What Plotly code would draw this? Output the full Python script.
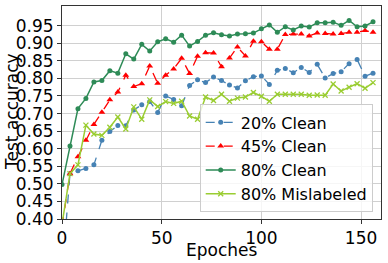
import plotly.graph_objects as go

epochs = list(range(0, 160, 4))

clean20 = [0.24, 0.529, 0.537, 0.544, 0.554, 0.624, 0.649, 0.666, 0.665, 0.710,
           0.725, 0.734, 0.703, 0.750, 0.740, 0.722, 0.780, 0.796, 0.788, 0.804,
           0.794, 0.781, 0.773, 0.793, 0.805, 0.807, 0.783, 0.823, 0.828, 0.816,
           0.831, 0.817, 0.840, 0.801, 0.814, 0.819, 0.842, 0.854, 0.806, 0.815]

clean45 = [0.38, 0.529, 0.577, 0.624, 0.669, 0.704, 0.739, 0.761, 0.809, 0.777,
           0.785, 0.835, 0.786, 0.809, 0.827, 0.857, 0.814, 0.863, 0.873, 0.872,
           0.833, 0.858, 0.889, 0.864, 0.906, 0.904, 0.883, 0.883, 0.925, 0.926,
           0.926, 0.921, 0.929, 0.928, 0.926, 0.928, 0.931, 0.931, 0.936, 0.931]

clean80 = [0.498, 0.608, 0.714, 0.743, 0.790, 0.794, 0.822, 0.815, 0.870, 0.855,
           0.897, 0.878, 0.904, 0.913, 0.903, 0.923, 0.892, 0.905, 0.923, 0.930,
           0.924, 0.921, 0.926, 0.927, 0.929, 0.941, 0.952, 0.931, 0.947, 0.938,
           0.949, 0.946, 0.958, 0.958, 0.960, 0.951, 0.965, 0.947, 0.949, 0.961]

mislabeled80 = [0.385, 0.529, 0.554, 0.667, 0.642, 0.638, 0.661, 0.690, 0.656, 0.719,
                0.684, 0.739, 0.720, 0.734, 0.729, 0.735, 0.693, 0.684, 0.747, 0.737,
                0.755, 0.735, 0.744, 0.747, 0.760, 0.749, 0.735, 0.755, 0.755, 0.755,
                0.755, 0.752, 0.753, 0.752, 0.784, 0.764, 0.775, 0.785, 0.772, 0.788]

series_names = ["20% Clean", "45% Clean", "80% Clean", "80% Mislabeled"]
y_ticks = [0.40, 0.45, 0.50, 0.55, 0.60, 0.65, 0.70, 0.75, 0.80, 0.85, 0.90, 0.95]
x_ticks = [0, 50, 100, 150]

FONT = "DejaVu Sans"
W, H = 388, 263
ML, MR, MT, MB = 62, 7, 6, 44
plot_w = W - ML - MR
plot_h = H - MT - MB

fig = go.Figure()
fig.add_trace(go.Scatter(
    x=epochs, y=clean20, name=series_names[0], mode="lines+markers",
    line=dict(color="#4682B4", width=1.3, dash="dash"),
    marker=dict(symbol="circle", size=5, color="#4682B4")))
fig.add_trace(go.Scatter(
    x=epochs, y=clean45, name=series_names[1], mode="lines+markers",
    line=dict(color="#FF0000", width=1.3, dash="dash"),
    marker=dict(symbol="triangle-up", size=6, color="#FF0000")))
fig.add_trace(go.Scatter(
    x=epochs, y=clean80, name=series_names[2], mode="lines+markers",
    line=dict(color="#2E8B57", width=1.5),
    marker=dict(symbol="circle", size=5, color="#2E8B57")))
fig.add_trace(go.Scatter(
    x=epochs, y=mislabeled80, name=series_names[3], mode="lines+markers",
    line=dict(color="#9ACD32", width=1.5),
    marker=dict(symbol="x-thin", size=5, color="#9ACD32",
                line=dict(width=1.3, color="#9ACD32"))))

axis_common = dict(
    showgrid=True, gridcolor="#d0d0d0", gridwidth=1,
    showline=True, linecolor="#333333", linewidth=1, mirror=True,
    ticks="outside", ticklen=4, tickcolor="#333333",
    tickfont=dict(family=FONT, size=17, color="#000000"),
    zeroline=False, automargin=False,
)

fig.update_xaxes(range=[0, 160], tickvals=x_ticks, **axis_common)
fig.update_yaxes(range=[0.4, 1.006], tickvals=y_ticks, tickformat=".2f", **axis_common)

fig.update_layout(
    width=W, height=H,
    margin=dict(l=ML, r=MR, t=MT, b=MB),
    paper_bgcolor="white", plot_bgcolor="white",
    font=dict(family=FONT, color="#000"),
    legend=dict(
        x=0.974, y=0.538, xanchor="right", yanchor="top",
        bgcolor="rgba(255,255,255,0.8)", bordercolor="#cccccc", borderwidth=1,
        font=dict(family=FONT, size=16, color="#000"),
        tracegroupgap=0,
    ),
    showlegend=True,
    annotations=[
        dict(text="Epoches", x=0.5, y=0, xref="paper", yref="paper",
             xanchor="center", yanchor="middle", yshift=-31,
             showarrow=False, font=dict(family=FONT, size=17, color="#000")),
        dict(text="Test accuracy", x=0, y=(H - MB - 112) / plot_h,
             xref="paper", yref="paper", xanchor="center", yanchor="middle",
             xshift=12 - ML,
             showarrow=False, textangle=-90, font=dict(family=FONT, size=17, color="#000")),
    ],
)

fig.write_html(
    "out.html",
    config={"displayModeBar": False},
    post_script="document.body.style.margin='0';document.body.style.padding='0';",
)
